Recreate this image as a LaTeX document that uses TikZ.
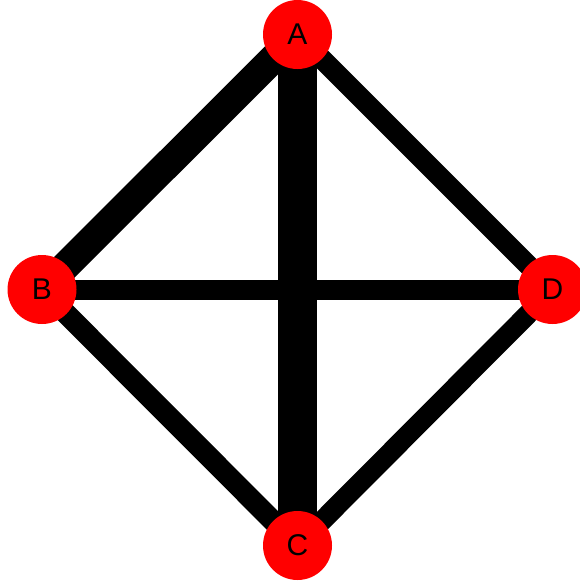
\documentclass[tikz,border=0pt]{standalone}
\usepackage{fontspec}
\setmainfont{Liberation Sans}
\usetikzlibrary{backgrounds}
\tikzset{
  vert/.style={circle, fill=red, draw=none, minimum size=69pt, inner sep=0pt, font=\fontsize{30}{36}\selectfont},
  edge/.style={draw=black, line cap=butt}
}
\begin{document}
\begin{tikzpicture}[x=1pt, y=-1pt]
\useasboundingbox (0,0) rectangle (579,581);
\node[vert] (A) at (297.5,34.5) {A};
\node[vert] (B) at (42,289.5) {B};
\node[vert] (C) at (297.5,545.5) {C};
\node[vert] (D) at (552.5,289.5) {D};
\begin{pgfonlayer}{background}
\draw[edge, line width=39.5pt] (A.center) -- (C.center);
\draw[edge, line width=29pt] (A.center) -- (B.center);
\draw[edge, line width=20.5pt] (A.center) -- (D.center);
\draw[edge, line width=20pt] (B.center) -- (D.center);
\draw[edge, line width=21pt] (B.center) -- (C.center);
\draw[edge, line width=20pt] (C.center) -- (D.center);
\end{pgfonlayer}
\end{tikzpicture}
\end{document}
